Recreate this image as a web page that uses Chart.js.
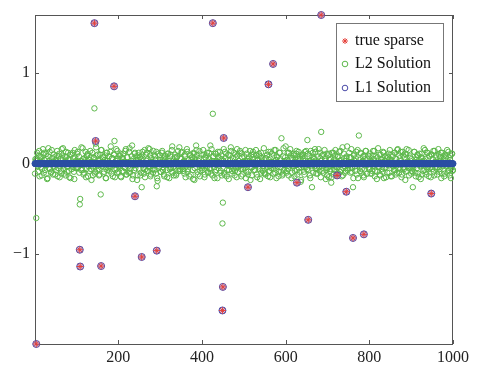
<!DOCTYPE html>
<html>
<head>
<meta charset="utf-8">
<script src="https://cdn.jsdelivr.net/npm/chart.js@4"></script>
<style>
  body { margin: 0; background: #fff; }
  canvas { display: block; }
</style>
</head>
<body>
<canvas id="grafica" width="481" height="369"></canvas>
<script>
// -------------------------
// Datos
// -------------------------
const N = 1000;
const xTicks = [200, 400, 600, 800, 1000];
const yTicks = [-1, 0, 1];

// señal dispersa original (índice, valor)
const spikeIdx = [4, 108, 109, 143, 146, 159, 190, 240, 256, 292, 426, 449, 450, 452, 510,
                  559, 570, 627, 654, 685, 723, 745, 761, 787, 948];
const spikeVal = [-1.99, -0.95, -1.135, 1.55, 0.25, -1.13, 0.853, -0.36, -1.03, -0.96, 1.55, -1.62, -1.36, 0.283, -0.26,
                  0.875, 1.10, -0.21, -0.62, 1.64, -0.13, -0.31, -0.82, -0.78, -0.33];

const l2NoisePar = [
  5,-8,12,-3,9,-14,2,7,-6,16,-10,4,-2,11,-17,8,-5,13,1,-9,6,-12,10,-4,3,
  -7,14,-1,8,-15,5,-11,9,17,-6,2,-13,7,-3,12,-8,4,-16,10,-2,6,-9,15,-5,1,
  11,-4,8,-12,3,18,-7,5,-10,2,13,-6,9,-14,4,-1,7,-18,12,-3,6,-11,1,9,-8,
  3,-13,10,-5,15,-2,7,-9,4,-16,12,-7,1,8,-4,19,-11,6,-1,10,-15,3,-6,14,-9,
  -2,9,-14,6,-8,11,2,-5,16,-12,7,-3,13,-10,0,8,-17,5,-7,12,-1,4,-13,9,-6,
  7,-10,3,13,-5,1,-15,10,-8,5,17,-4,9,-12,2,-6,14,-2,8,-11,6,-19,11,-3,4,
  -9,12,-4,6,-14,9,2,-7,11,-1,-16,8,-5,15,-10,3,-3,10,-13,7,1,-8,18,-6,5,
  13,-6,2,-11,8,-3,16,-9,4,-14,10,-1,7,-7,12,-18,5,-4,9,-12,3,14,-8,1,-5,
  -3,10,-15,7,-2,12,-9,5,-6,20,-11,3,-4,8,-16,11,-7,2,13,-5,6,-10,9,-13,4,
  8,-12,1,11,-7,4,-17,9,-3,14,-8,6,-1,-13,10,-5,16,-9,3,-2,12,-14,7,-6,2,
  -5,15,-9,3,-12,7,1,-18,10,-4,13,-7,5,-2,9,-15,4,11,-6,8,-10,2,-3,17,-11,
  6,-2,10,-14,4,-8,13,-5,2,-11,9,-3,15,-16,7,1,-9,12,-4,5,-13,8,-7,3,19,
  -10,4,-6,12,-1,9,-16,6,-3,11,-8,2,14,-12,5,-5,8,-20,10,-2,6,-9,13,-4,0,
  9,-7,3,-13,14,-2,7,-10,5,16,-6,1,-11,8,-4,12,-15,3,-8,10,-1,6,-17,11,-5,
  -4,11,-8,5,-15,2,12,-6,9,-3,-12,7,-1,13,-9,4,-14,18,-5,6,-10,3,8,-7,1,
  12,-5,7,-9,2,-16,10,-3,6,-12,15,-1,4,-8,11,-6,3,-13,9,-2,14,-11,5,-4,8,
  -6,3,-11,9,-2,14,-8,1,-17,7,-4,10,-13,5,2,-9,12,-5,8,-15,6,-1,11,-10,4,
  2,-14,8,-3,12,-7,5,-10,16,-1,9,-6,3,-12,13,-4,7,-18,10,-8,1,15,-5,6,-11,
  -8,6,-2,13,-10,4,-5,9,-15,11,-3,7,-12,2,17,-7,5,-9,12,-1,-14,8,-4,10,-6,
  5,-9,14,-4,7,-12,1,10,-6,3,-16,12,-2,8,-11,6,-3,15,-8,2,-13,9,-5,11,-7
];

// solución L2: ruido en centésimas, índices impares 1,3,...,999
const l2NoiseImpar = [
  -11,3,6,-2,-9,14,8,-4,-13,1,10,12,-7,-1,5,-16,9,3,-6,-10,15,2,-3,7,-12,
  4,9,-14,-5,11,0,-8,16,6,-2,-11,8,13,-9,-3,5,-15,10,1,-6,12,-4,-17,7,3,
  -5,13,2,-10,8,-7,-1,17,-12,6,4,-15,9,11,-3,-8,14,-6,2,-13,7,5,-9,18,-2,
  10,-6,-12,4,15,-3,7,-11,1,9,-16,12,3,-5,-8,13,-1,6,-14,10,2,-7,16,-10,5,
  -3,8,11,-15,2,6,-9,-4,14,-12,7,1,-10,17,-6,3,9,-13,-2,11,-5,8,-18,4,12,
  7,-13,5,9,-1,-11,15,-6,3,12,-8,-3,16,-14,6,2,-10,10,-7,4,13,-16,1,-5,9,
  -9,2,14,-7,-12,8,5,-1,-15,11,3,-6,10,-9,19,-4,-13,7,2,-11,8,14,-3,-8,6,
  12,-4,-8,3,10,-15,1,13,-6,-2,9,-12,4,7,-17,11,-5,2,15,-9,-1,6,-14,10,-3,
  -7,15,1,-12,6,9,-3,-10,12,-5,2,16,-13,8,-4,-9,11,3,-16,7,-2,13,-8,5,-11,
  3,-10,13,6,-14,-2,10,-7,4,18,-11,1,-5,12,-8,7,-15,9,-3,-1,14,-6,11,-12,2,
  8,-2,-16,11,5,-9,3,14,-4,-13,7,10,-1,-7,15,-12,4,-3,9,-17,12,6,-8,1,-10,
  -12,6,9,-4,13,-8,-15,2,11,-1,-6,15,-10,4,8,-3,-14,12,5,-9,1,-11,17,-2,7,
  1,-8,12,-13,-3,16,6,-10,-2,9,-14,4,11,-7,-1,13,-9,5,-18,8,10,-4,-12,3,14,
  -6,11,-1,8,-16,4,-9,12,7,-3,13,-11,-5,2,16,-8,6,-14,9,-2,-10,15,3,-7,-13,
  9,-15,4,-6,10,12,-2,-12,5,15,-9,-4,8,-11,3,14,-7,1,-13,11,-3,-8,6,19,-5,
  -2,7,-10,16,-5,-13,9,3,-8,13,1,-16,6,-4,12,-10,2,8,-15,5,14,-1,-11,9,-6,
  11,-11,2,-8,14,5,-14,8,-1,-9,17,-3,-12,10,4,-6,13,-16,3,-4,9,-10,7,-2,15,
  -14,4,10,-3,-7,12,-12,1,15,-5,-10,6,13,-15,-1,9,-6,11,-9,16,-3,2,-13,8,-4,
  5,-9,-5,13,1,-14,7,10,-11,4,-2,-17,11,6,-8,3,15,-12,-4,12,-6,9,1,-15,10,
  -1,14,-13,2,9,-6,-4,16,-9,7,12,-11,-3,5,-14,10,8,-2,-10,13,-7,4,-16,11,-8
];

// solución L2: valores que se salen de la banda
const l2OutIdx = [4, 33, 108, 109, 143, 146, 158, 191, 233, 256, 292, 386, 426, 449, 450, 452,
                  590, 652, 663, 685, 709, 761, 775, 904];
const l2OutVal = [-0.60, 0.17, -0.45, -0.39, 0.61, 0.22, -0.34, 0.25, 0.20, -0.26, -0.25, 0.20, 0.55, -0.66, -0.43, 0.16,
                  0.28, 0.26, -0.26, 0.35, -0.21, -0.26, 0.31, -0.26];

// -------------------------
// Series para Chart.js
// -------------------------
const trueData = spikeIdx.map((x, i) => ({ x: x, y: spikeVal[i] }));

const l1Data = [];
for (let k = 1; k <= N; k++) {
    const j = spikeIdx.indexOf(k);
    l1Data.push({ x: k, y: j >= 0 ? spikeVal[j] : 0, spike: j >= 0 });
}

const l2Data = [];
l2NoisePar.forEach((v, i) => {
    const x = 2 * i + 2;
    if (!l2OutIdx.includes(x)) l2Data.push({ x: x, y: v / 100 });
});
l2NoiseImpar.forEach((v, i) => {
    const x = 2 * i + 1;
    if (!l2OutIdx.includes(x)) l2Data.push({ x: x, y: v / 100 });
});
l2OutIdx.forEach((x, i) => l2Data.push({ x: x, y: l2OutVal[i] }));

const ROJO = '#e5403a';
const VERDE = '#5cb84a';
const AZUL = '#2b4ea3';
const AZUL_ARO = '#4a4aa8';
const FUENTE = '"Liberation Serif", "DejaVu Serif", serif';

// -------------------------
// Marco, ticks hacia dentro y leyenda
// -------------------------
const marcoPlugin = {
    id: 'marco',
    beforeDatasetsDraw(chart) {
        const { ctx, chartArea: a, scales } = chart;
        ctx.save();
        ctx.strokeStyle = '#555';
        ctx.lineWidth = 1;
        ctx.strokeRect(a.left + 0.5, a.top + 0.5, a.right - a.left - 1, a.bottom - a.top);
        ctx.beginPath();
        xTicks.forEach(v => {
            const px = Math.round(scales.x.getPixelForValue(v)) + 0.5;
            ctx.moveTo(px, a.bottom); ctx.lineTo(px, a.bottom - 4);
            ctx.moveTo(px, a.top); ctx.lineTo(px, a.top + 4);
        });
        yTicks.forEach(v => {
            const py = Math.round(scales.y.getPixelForValue(v)) + 0.5;
            ctx.moveTo(a.left, py); ctx.lineTo(a.left + 4, py);
            ctx.moveTo(a.right, py); ctx.lineTo(a.right - 4, py);
        });
        ctx.stroke();
        ctx.restore();
    },
    afterDraw(chart) {
        const { ctx, chartArea: a } = chart;
        const bx = a.right - 117, by = a.top + 8, bw = 107, bh = 78;
        ctx.save();
        ctx.fillStyle = '#fff';
        ctx.fillRect(bx, by, bw, bh);
        ctx.strokeStyle = '#777';
        ctx.lineWidth = 1;
        ctx.strokeRect(bx + 0.5, by + 0.5, bw, bh);

        const filas = [
            { texto: 'true sparse', y: by + 18 },
            { texto: 'L2 Solution', y: by + 41 },
            { texto: 'L1 Solution', y: by + 65 }
        ];
        const mx = bx + 9;
        // asterisco rojo
        ctx.strokeStyle = ROJO;
        ctx.lineWidth = 1;
        ctx.beginPath();
        for (let k = 0; k < 4; k++) {
            const ang = k * Math.PI / 4;
            ctx.moveTo(mx - 3 * Math.cos(ang), filas[0].y - 3 * Math.sin(ang));
            ctx.lineTo(mx + 3 * Math.cos(ang), filas[0].y + 3 * Math.sin(ang));
        }
        ctx.stroke();
        // círculos
        ctx.strokeStyle = VERDE;
        ctx.beginPath(); ctx.arc(mx, filas[1].y, 2.8, 0, 2 * Math.PI); ctx.stroke();
        ctx.strokeStyle = AZUL_ARO;
        ctx.beginPath(); ctx.arc(mx, filas[2].y, 2.8, 0, 2 * Math.PI); ctx.stroke();

        ctx.fillStyle = '#111';
        ctx.font = '16px ' + FUENTE;
        ctx.textBaseline = 'middle';
        filas.forEach(f => ctx.fillText(f.texto, bx + 19, f.y));
        ctx.restore();
    }
};

// -------------------------
// Gráfica
// -------------------------
new Chart(document.getElementById('grafica'), {
    type: 'scatter',
    data: {
        datasets: [
            {
                label: 'true sparse',
                data: trueData,
                order: 0,
                pointStyle: 'star',
                pointRadius: 3.5,
                borderColor: ROJO,
                borderWidth: 1,
                clip: false
            },
            {
                label: 'L1 Solution',
                data: l1Data,
                order: 1,
                pointStyle: 'circle',
                pointRadius: ctx => ctx.raw && ctx.raw.spike ? 3.5 : 3,
                borderWidth: 1,
                borderColor: ctx => ctx.raw && ctx.raw.spike ? AZUL_ARO : AZUL,
                backgroundColor: ctx => ctx.raw && ctx.raw.spike ? 'rgba(150,150,225,0.55)' : AZUL,
                clip: false
            },
            {
                label: 'L2 Solution',
                data: l2Data,
                order: 2,
                pointStyle: 'circle',
                pointRadius: 2.7,
                borderWidth: 1,
                borderColor: VERDE,
                backgroundColor: 'rgba(0,0,0,0)',
                clip: false
            }
        ]
    },
    options: {
        responsive: false,
        animation: false,
        devicePixelRatio: 1,
        events: [],
        layout: { padding: { top: 15, right: 28, bottom: 0, left: 0 } },
        plugins: {
            legend: { display: false },
            tooltip: { enabled: false }
        },
        scales: {
            x: {
                type: 'linear',
                min: 1,
                max: N,
                grid: { display: false, drawTicks: false },
                border: { display: false },
                afterBuildTicks: s => { s.ticks = xTicks.map(v => ({ value: v })); },
                afterFit: s => { s.height = 25; },
                ticks: {
                    autoSkip: false,
                    maxRotation: 0,
                    padding: 4,
                    color: '#222',
                    font: { family: FUENTE, size: 16 },
                    callback: v => String(v)
                }
            },
            y: {
                type: 'linear',
                min: -1.99,
                max: 1.64,
                grid: { display: false, drawTicks: false },
                border: { display: false },
                afterBuildTicks: s => { s.ticks = yTicks.map(v => ({ value: v })); },
                afterFit: s => { s.width = 35; },
                ticks: {
                    padding: 5,
                    color: '#222',
                    font: { family: FUENTE, size: 16 },
                    callback: v => v < 0 ? '\u2212' + Math.abs(v) : String(v)
                }
            }
        }
    },
    plugins: [marcoPlugin]
});
</script>
</body>
</html>
